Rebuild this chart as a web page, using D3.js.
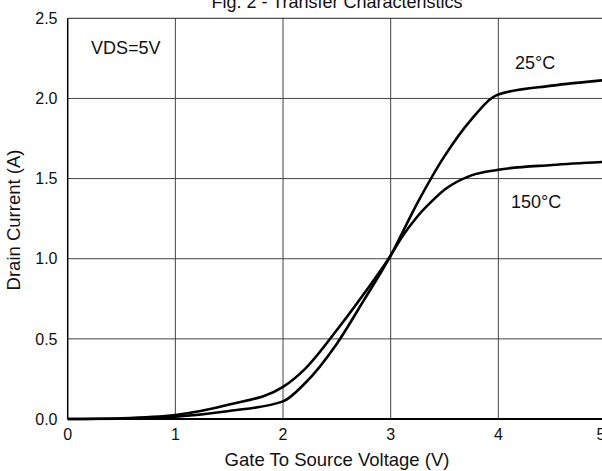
<!DOCTYPE html>
<html><head><meta charset="utf-8">
<script src="https://cdn.jsdelivr.net/npm/d3@7"></script>
<style>body{margin:0;background:#fff}svg{display:block;font-family:"Liberation Sans",Arial,sans-serif}</style>
</head><body>
<svg id="c" width="602" height="471"></svg>
<script>
const vgs25 = [0, 0.5, 1, 1.5, 2, 2.2, 2.5, 2.75, 3, 3.25, 3.5, 3.75, 4, 4.5, 5];
const id25  = [0, 0.002, 0.014, 0.05, 0.11, 0.22, 0.47, 0.74, 1.02, 1.35, 1.64, 1.87, 2.025, 2.08, 2.115];
const vgs150 = [0, 0.5, 1, 1.5, 2, 2.2, 2.5, 2.75, 3, 3.1, 3.25, 3.4, 3.5, 3.75, 4, 4.5, 5];
const id150  = [0, 0.005, 0.025, 0.09, 0.2, 0.31, 0.555, 0.78, 1.02, 1.13, 1.265, 1.37, 1.43, 1.52, 1.555, 1.585, 1.605];
const xTicks = [0, 1, 2, 3, 4, 5];
const yTicks = [0, 0.5, 1.0, 1.5, 2.0, 2.5];

const svg = d3.select("#c");
const x = d3.scaleLinear().domain([0, 5]).range([67.7, 606]);
const y = d3.scaleLinear().domain([0, 2.5]).range([419, 18.3]);

// grid
svg.append("g").selectAll("line").data(xTicks.slice(1, -1)).join("line")
  .attr("x1", d => x(d)).attr("x2", d => x(d)).attr("y1", y(0)).attr("y2", y(2.5))
  .attr("stroke", "#444").attr("stroke-width", 1);
svg.append("g").selectAll("line").data(yTicks.slice(1, -1)).join("line")
  .attr("x1", x(0)).attr("x2", x(5)).attr("y1", d => y(d)).attr("y2", d => y(d))
  .attr("stroke", "#444").attr("stroke-width", 1);
// border
svg.append("line").attr("x1", x(0)).attr("x2", x(5)).attr("y1", y(2.5)).attr("y2", y(2.5)).attr("stroke", "#222").attr("stroke-width", 1);
svg.append("line").attr("x1", x(5)).attr("x2", x(5)).attr("y1", y(2.5)).attr("y2", y(0)).attr("stroke", "#222").attr("stroke-width", 1);
svg.append("line").attr("x1", x(0)).attr("x2", x(0)).attr("y1", y(2.5)).attr("y2", y(0)).attr("stroke", "#000").attr("stroke-width", 1.5);
svg.append("line").attr("x1", x(0)).attr("x2", x(5)).attr("y1", y(0)).attr("y2", y(0)).attr("stroke", "#000").attr("stroke-width", 2);

// tick labels
svg.append("g").selectAll("text").data(xTicks).join("text")
  .attr("x", d => Math.min(x(d), 601)).attr("y", 440).attr("text-anchor", "middle")
  .attr("font-size", 16).attr("fill", "#111").text(d => d);
svg.append("g").selectAll("text").data(yTicks).join("text")
  .attr("x", 57.5).attr("y", d => y(d) + 5.7).attr("text-anchor", "end")
  .attr("font-size", 16).attr("fill", "#111").text(d => d.toFixed(1));

// titles
svg.append("text").attr("x", 337).attr("y", 7.5).attr("text-anchor", "middle").attr("font-size", 18).attr("fill", "#111").text("Fig. 2 - Transfer Characteristics");
svg.append("text").attr("x", 337).attr("y", 466).attr("text-anchor", "middle").attr("font-size", 18.5).attr("fill", "#111").text("Gate To Source Voltage (V)");
svg.append("text").attr("transform", "translate(20,220) rotate(-90)").attr("text-anchor", "middle").attr("font-size", 18.5).attr("fill", "#111").text("Drain Current (A)");

// curves
const line = d3.line().x(d => x(d[0])).y(d => y(d[1])).curve(d3.curveMonotoneX);
svg.append("path").datum(vgs25.map((v, i) => [v, id25[i]])).attr("d", line)
  .attr("fill", "none").attr("stroke", "#000").attr("stroke-width", 2.6);
svg.append("path").datum(vgs150.map((v, i) => [v, id150[i]])).attr("d", line)
  .attr("fill", "none").attr("stroke", "#000").attr("stroke-width", 2.6);

// annotations
svg.append("text").attr("x", 91).attr("y", 54).attr("font-size", 18).attr("fill", "#111").text("VDS=5V");
svg.append("text").attr("x", 515).attr("y", 69).attr("font-size", 18).attr("fill", "#111").text("25°C");
svg.append("text").attr("x", 511).attr("y", 208).attr("font-size", 18).attr("fill", "#111").text("150°C");
</script>
</body></html>
